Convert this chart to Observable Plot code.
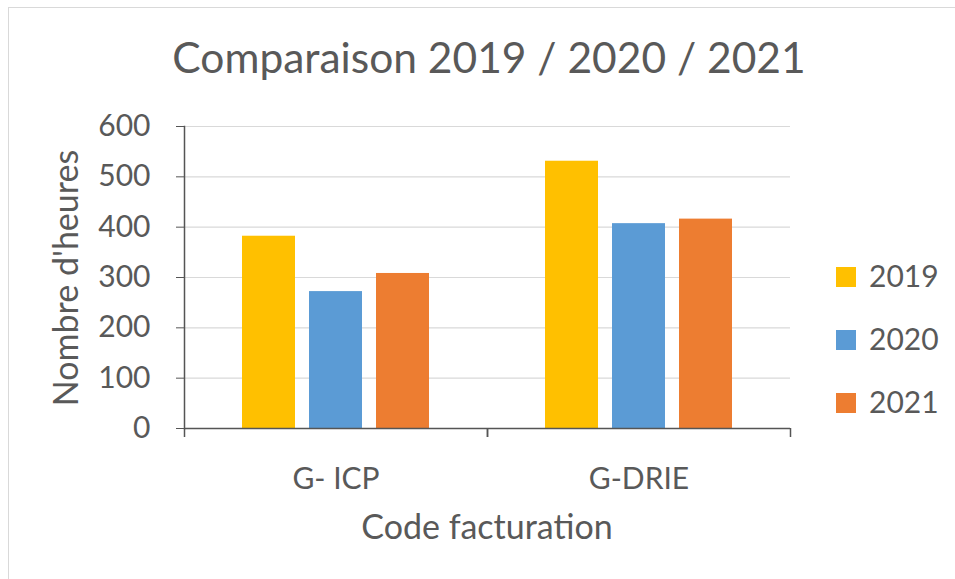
<!DOCTYPE html>
<html>
<head>
<meta charset="utf-8">
<script src="https://cdn.jsdelivr.net/npm/d3@7"></script>
<script src="https://cdn.jsdelivr.net/npm/@observablehq/plot@0.6"></script>
<style>
  html, body { margin: 0; padding: 0; background: #fff; }
  #page { position: relative; width: 955px; height: 579px; overflow: hidden; }
  #border { position: absolute; left: 8px; top: 7px; width: 980px; height: 620px; border: 1px solid #d9d9d9; box-sizing: border-box; }
  #chart { position: absolute; left: 0; top: 0; }
  #overlay { position: absolute; left: 0; top: 0; }
</style>
</head>
<body>
<div id="page">
  <div id="border"></div>
  <div id="chart"></div>
  <svg id="overlay" width="955" height="579"></svg>
</div>
<script>
// ---- data ----
const groups = ["G- ICP", "G-DRIE"];
const years = ["2019", "2020", "2021"];
const values2019 = [382, 531];
const values2020 = [272, 407];
const values2021 = [308, 416];
const colors = ["#FFC000", "#5B9BD5", "#ED7D31"];
const yTicks = [0, 100, 200, 300, 400, 500, 600];
const title = "Comparaison 2019 / 2020 / 2021";
const xTitle = "Code facturation";
const yTitle = "Nombre d'heures";

const series = [values2019, values2020, values2021];
const table = [];
groups.forEach((g, gi) => years.forEach((yr, yi) => table.push({group: g, year: yr, value: series[yi][gi]})));

// ---- layout ----
const W = 955, H = 579;
const mL = 184, mR = 165, mT = 126, mB = 151;
const half = (W - mL - mR) / groups.length / 2;
const textColor = "#595959";
const axisColor = "#555555";
const font = "Lato, 'Open Sans', sans-serif";

const plot = Plot.plot({
  width: W, height: H,
  marginLeft: mL, marginRight: mR, marginTop: mT, marginBottom: mB,
  style: {fontFamily: font, fontSize: "30px", color: textColor, background: "transparent"},
  fx: {domain: groups, padding: 0},
  x: {domain: years, paddingInner: 0.21, paddingOuter: 0.866, axis: null},
  y: {domain: [0, 600]},
  color: {domain: years, range: colors},
  marks: [
    Plot.gridY(yTicks, {stroke: "#d9d9d9", strokeOpacity: 1, strokeWidth: 1.2}),
    Plot.barY(table, {fx: "group", x: "year", y: "value", fill: "year"}),
    Plot.ruleY([0], {stroke: axisColor, strokeWidth: 1.5}),
    Plot.frame({anchor: "left", fx: () => groups[0], stroke: axisColor, strokeWidth: 1.5}),
    Plot.axisY(yTicks, {tickSize: 8, tickPadding: 26, fontSize: 30, stroke: axisColor, fill: textColor, label: null}),
    Plot.axisFx({anchor: "bottom", tickSize: 9, fill: "none", stroke: axisColor, strokeWidth: 1.5, label: null, dx: -half}),
    Plot.axisFx([groups[groups.length - 1]], {anchor: "bottom", tickSize: 9, fill: "none", stroke: axisColor, strokeWidth: 1.5, label: null, dx: half}),
    Plot.axisFx({anchor: "bottom", tickSize: 0, tickPadding: 39, fontSize: 30, fill: textColor, label: null})
  ]
});
document.getElementById("chart").appendChild(plot);

// ---- titles and legend ----
const ov = d3.select("#overlay").style("font-family", font);
ov.append("text").attr("x", 489).attr("y", 73).attr("text-anchor", "middle")
  .attr("font-size", 42.5).attr("fill", textColor).text(title);
ov.append("text").attr("x", 487).attr("y", 539).attr("text-anchor", "middle")
  .attr("font-size", 34).attr("fill", textColor).text(xTitle);
ov.append("text").attr("transform", "translate(78,278) rotate(-90)").attr("text-anchor", "middle")
  .attr("font-size", 34).attr("fill", textColor).text(yTitle);

const legendY = [277, 340, 403];
years.forEach((yr, i) => {
  ov.append("rect").attr("x", 836).attr("y", legendY[i] - 10).attr("width", 20).attr("height", 20).attr("fill", colors[i]);
  ov.append("text").attr("x", 869).attr("y", legendY[i] + 10).attr("font-size", 30).attr("fill", textColor).text(yr);
});
</script>
</body>
</html>
